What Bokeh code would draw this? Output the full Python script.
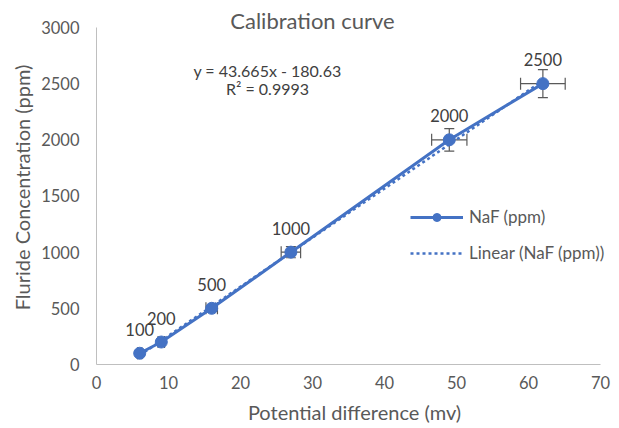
from bokeh.plotting import figure
from bokeh.models import (ColumnDataSource, Range1d, FixedTicker, Whisker, TeeHead,
                          LabelSet, Label, Legend, LegendItem)
from bokeh.core.properties import value
from bokeh.embed import file_html
from bokeh.resources import INLINE

# ---- data ----
potential_mv = [6, 9, 16, 27, 49, 62]
naf_ppm = [100, 200, 500, 1000, 2000, 2500]
point_labels = ["100", "200", "500", "1000", "2000", "2500"]
err_pct = 0.05
trend_slope = 43.665
trend_intercept = -180.63
eq_text = "y = 43.665x - 180.63"
r2_text = "R² = 0.9993"
x_ticks = [0, 10, 20, 30, 40, 50, 60, 70]
y_ticks = [0, 500, 1000, 1500, 2000, 2500, 3000]

FONT = "Lato"
BLUE = "#4472C4"
GREY = "#595959"
DARK = "#404040"

src = ColumnDataSource(dict(
    x=potential_mv, y=naf_ppm, lab=point_labels,
    xl=[v * (1 - err_pct) for v in potential_mv], xu=[v * (1 + err_pct) for v in potential_mv],
    yl=[v * (1 - err_pct) for v in naf_ppm], yu=[v * (1 + err_pct) for v in naf_ppm],
))

p = figure(width=612, height=426, output_backend="svg", toolbar_location=None,
           x_range=Range1d(0, 71.67), y_range=Range1d(0, 3151),
           min_border_left=96, min_border_right=0, min_border_top=10, min_border_bottom=62)
p.outline_line_color = None
p.xgrid.visible = False
p.ygrid.visible = False
p.background_fill_color = "white"

for ax, ticks in ((p.xaxis[0], x_ticks), (p.yaxis[0], y_ticks)):
    ax.ticker = FixedTicker(ticks=ticks)
    ax.axis_line_color = "#bfbfbf"
    ax.axis_line_width = 1
    ax.major_tick_line_color = None
    ax.minor_tick_line_color = None
    ax.major_tick_out = 0
    ax.major_tick_in = 0
    ax.major_label_text_font = FONT
    ax.major_label_text_font_size = "16.5px"
    ax.major_label_text_color = GREY
    ax.axis_label_text_font = FONT
    ax.axis_label_text_font_size = "20px"
    ax.axis_label_text_color = GREY
    ax.axis_label_text_font_style = "normal"

p.xaxis[0].bounds = (0, 70)
p.yaxis[0].bounds = (0, 3000)
p.xaxis.axis_label = "Potential difference (mv)"
p.yaxis.axis_label = "Fluride Concentration (ppm)"
p.xaxis.major_label_standoff = 11
p.yaxis.major_label_standoff = 17
p.xaxis.axis_label_standoff = 8
p.yaxis.axis_label_standoff = 4

# trend line (Excel linear trendline over the data x-range)
tx = [min(potential_mv), max(potential_mv)]
ty = [trend_slope * v + trend_intercept for v in tx]
trend = p.line(tx, ty, line_color=BLUE, line_width=2.5, line_dash="3 3")

line = p.line("x", "y", source=src, line_color=BLUE, line_width=3)
pts = p.scatter("x", "y", source=src, size=12, fill_color=BLUE, line_color=BLUE)

p.add_layout(Whisker(base="y", lower="xl", upper="xu", dimension="width", source=src,
                     line_color=GREY, line_width=1.2,
                     upper_head=TeeHead(size=12, line_color=GREY, line_width=1.2),
                     lower_head=TeeHead(size=12, line_color=GREY, line_width=1.2)))
p.add_layout(Whisker(base="x", lower="yl", upper="yu", dimension="height", source=src,
                     line_color=GREY, line_width=1.2,
                     upper_head=TeeHead(size=10, line_color=GREY, line_width=1.2),
                     lower_head=TeeHead(size=10, line_color=GREY, line_width=1.2)))

p.add_layout(LabelSet(x="x", y="y", text="lab", source=src, y_offset=24,
                      text_align="center", text_baseline="middle",
                      text_font=value(FONT), text_font_size=value("16.5px"),
                      text_color=value(DARK)))

p.add_layout(Label(x=30, y=3062, text="Calibration curve", text_align="center",
                   text_baseline="middle", text_font=FONT, text_font_size="22px",
                   text_color=GREY))
p.add_layout(Label(x=23.75, y=2617, text=eq_text, text_align="center",
                   text_baseline="middle", text_font=FONT, text_font_size="16px",
                   text_color=DARK))
p.add_layout(Label(x=23.75, y=2457, text=r2_text, text_align="center",
                   text_baseline="middle", text_font=FONT, text_font_size="16px",
                   text_color=DARK))

legend = Legend(items=[LegendItem(label="NaF (ppm)", renderers=[line, pts]),
                       LegendItem(label="Linear (NaF (ppm))", renderers=[trend])],
                location=(314, 101), margin=0, padding=0, spacing=15,
                glyph_width=53, glyph_height=20, label_height=20, label_standoff=6,
                label_text_font=FONT, label_text_font_size="17px", label_text_color=GREY,
                border_line_color=None, background_fill_alpha=0)
p.add_layout(legend)

open("out.html", "w").write(file_html(p, INLINE))
